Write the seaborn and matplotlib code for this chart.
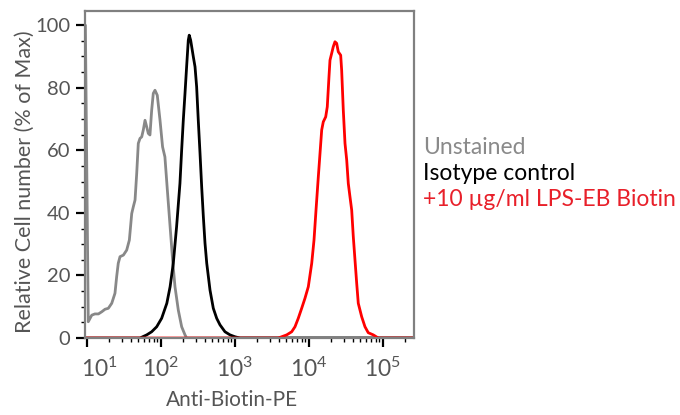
import numpy as np
import pandas as pd
import seaborn as sns
import matplotlib.pyplot as plt
from matplotlib.ticker import FixedLocator, LogLocator, NullFormatter, MultipleLocator
from matplotlib.transforms import ScaledTranslation

unstained_x = [9.6, 10.5, 11.7, 12.9, 14.4, 16.0, 17.7, 19.6, 21.8, 24.1, 25.4, 26.7, 28.2,
               31.3, 34.7, 37.7, 40.6, 42.7, 45.0, 47.4, 49.8, 52.5, 55.4, 58.2, 61.4, 64.7,
               68.0, 71.6, 75.5, 79.4, 83.7, 89.9, 97.9, 106, 114, 123, 134, 145, 156, 173,
               192, 213, 224, 260000]
unstained_y = [100, 5.2, 7.3, 7.7, 7.7, 8.4, 9.2, 9.5, 11.1, 14.3, 19.6, 23.9, 26.0,
               26.5, 28.1, 31.3, 39.8, 42.0, 44.1, 52.6, 62.2, 63.8, 64.3, 66.5, 69.6, 67.5,
               65.4, 64.9, 72.8, 78.2, 79.2, 77.6, 69.6, 61.1, 57.9, 47.3, 35.6, 24.9, 16.4, 8.9,
               3.6, 1.0, 0, 0]

isotype_x = [9.6, 52.5, 64.7, 75.5, 88.3, 103, 121, 134, 148, 164, 182, 192, 202, 213, 224,
             236, 243, 254, 276, 291, 306, 322, 340, 358, 377, 397, 419, 464, 514, 571,
             633, 739, 864, 1009, 1180, 260000]
isotype_y = [0, 0, 1.0, 2.0, 3.6, 6.3, 11.1, 16.4, 23.9, 35.6, 49.4, 60.1, 69.6, 78.2, 86.7,
             95.2, 96.8, 95.2, 89.9, 86.7, 80.3, 69.6, 59.0, 48.3, 38.8, 30.3, 23.9, 15.3, 9.5, 6.3,
             4.2, 2.0, 1.0, 0.4, 0, 0]

lps_x = [9.6, 3882, 5043, 5893, 6530, 7232, 8041, 8908, 9883, 10990, 11800, 12560, 13490,
         14220, 14990, 15750, 16980, 17830, 18800, 19400, 20450, 21480, 22650, 23880, 25110,
         27060, 27900, 29360, 30960, 32640, 34300, 36160, 38120, 40070, 42250, 44540, 46790,
         52020, 57650, 63810, 74620, 87270, 260000]
lps_y = [0, 0, 1.0, 2.0, 3.6, 6.3, 9.5, 12.7, 16.4, 23.9, 31.3, 40.9, 51.5,
         59.0, 66.5, 69.1, 70.7, 73.9, 83.5, 88.8, 91.0, 93.1, 94.7, 94.2, 91.5,
         90.4, 85.6, 72.8, 62.2, 56.9, 49.4, 45.1, 40.9, 32.4, 24.9, 17.5, 11.1,
         6.8, 3.6, 1.7, 1.0, 0, 0]

legend_labels = ['Unstained', 'Isotype control', '+10 µg/ml LPS-EB Biotin']
x_ticks = [1e1, 1e2, 1e3, 1e4, 1e5]
x_ticklabels = ['$10^{1}$', '$10^{2}$', '$10^{3}$', '$10^{4}$', '$10^{5}$']
y_ticks = [0, 20, 40, 60, 80, 100]

sns.set_style('ticks')
plt.rcParams['font.family'] = ['Lato', 'DejaVu Sans']
plt.rcParams['mathtext.fontset'] = 'custom'
plt.rcParams['mathtext.rm'] = 'Lato'
plt.rcParams['mathtext.it'] = 'Lato:italic'

fig = plt.figure(figsize=(6.8, 4.15), dpi=100)
ax = fig.add_axes([0.125, 0.1855, 0.4838, 0.7885])

curvas = [
    (unstained_x, unstained_y, '#888888'),
    (isotype_x, isotype_y, '#000000'),
    (lps_x, lps_y, '#ff0000'),
]
for xs, ys, cor in curvas:
    df = pd.DataFrame({'x': xs, 'y': ys})
    sns.lineplot(data=df, x='x', y='y', sort=False, color=cor, lw=2.0, ax=ax, estimator=None)

ax.set_xscale('log')
ax.set_xlim(10 ** 0.977, 10 ** 5.423)
ax.set_ylim(0, 104.6)

cinza = '#555555'
ax.xaxis.set_major_locator(FixedLocator(x_ticks))
ax.set_xticklabels(x_ticklabels, fontsize=16.5, color=cinza)
ax.xaxis.set_minor_locator(LogLocator(base=10, subs=np.arange(2, 10)))
ax.xaxis.set_minor_formatter(NullFormatter())

ax.set_yticks(y_ticks)
ax.yaxis.set_minor_locator(MultipleLocator(5))
ax.tick_params(axis='y', which='major', labelsize=14.5, labelcolor=cinza)

ax.tick_params(which='major', length=6.5, width=1.6, color='black')
ax.tick_params(axis='y', which='major', pad=4)
ax.tick_params(axis='x', which='major', pad=7)
ax.tick_params(which='minor', length=3, width=1, color='black')

# primeiro rótulo deslocado para a direita, como no original
lbl = ax.get_xticklabels()[0]
lbl.set_transform(lbl.get_transform() + ScaledTranslation(13 / 100, 0, fig.dpi_scale_trans))

for s in ax.spines.values():
    s.set_color('#808080')
    s.set_linewidth(1.6)

ax.set_xlabel('Anti-Biotin-PE', fontsize=15, color=cinza)
ax.set_ylabel('Relative Cell number (% of Max)', fontsize=15.5, color=cinza)
ax.xaxis.set_label_coords(0.448, -0.158)
ax.yaxis.set_label_coords(-0.152, 0.477)

cores_legenda = ['#8a8a8a', '#000000', '#e8202a']
for i, (txt, cor) in enumerate(zip(legend_labels, cores_legenda)):
    fig.text(423 / 680, 1 - (148 + 25.5 * i) / 415, txt, color=cor, fontsize=16.5, va='center', ha='left')

fig.savefig('out.png', dpi=100)
